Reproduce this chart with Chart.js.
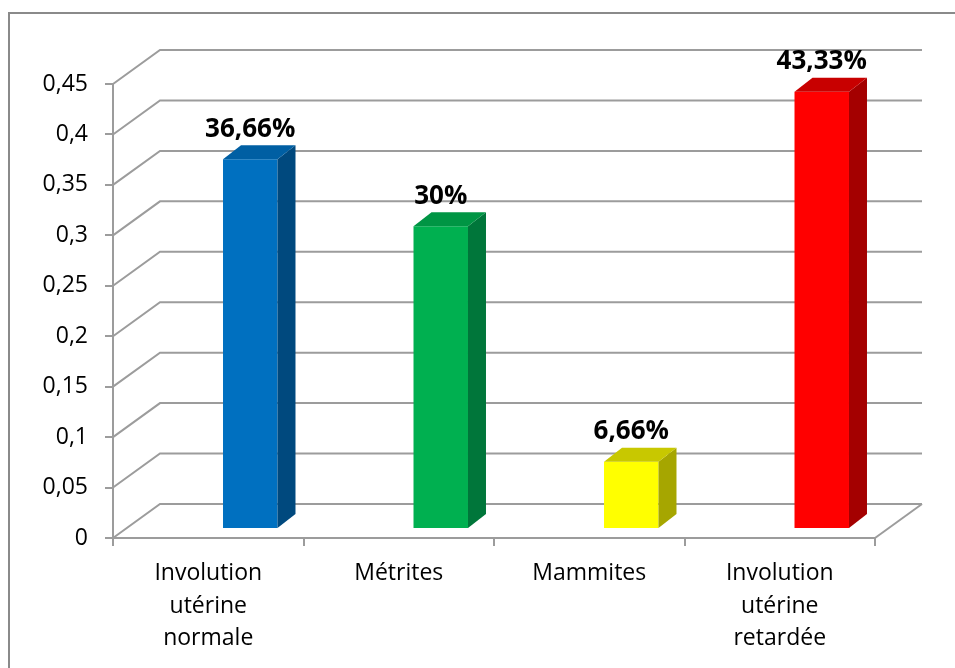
<!DOCTYPE html>
<html>
<head>
<meta charset="utf-8">
<script src="https://cdn.jsdelivr.net/npm/chart.js@4/dist/chart.umd.min.js"></script>
<style>
  html, body { margin: 0; padding: 0; background: #fff; }
  #wrap { width: 955px; height: 668px; }
</style>
</head>
<body>
<div id="wrap"><canvas id="chart"></canvas></div>
<script>
var categories = [
    ['Involution', 'utérine', 'normale'],
    'Métrites',
    'Mammites',
    ['Involution', 'utérine', 'retardée']
];
var values = [0.3666, 0.30, 0.0666, 0.4333];
var frontColors = ['#0070C0', '#00B050', '#FFFF00', '#FF0000'];
var sideColors = ['#00497E', '#00763A', '#A6A600', '#A40000'];
var topColors = ['#005FA3', '#009544', '#C8C800', '#C80000'];

// depth of the back wall and of the columns
var wallDx = 47, wallDy = -34;
var barDx = 42, barDy = -9;
var colDx = 18, colDy = -14;
var gridColor = '#9C9C9C';

function fmtNum(v) {
    return String(Math.round(v * 10000) / 10000).replace('.', ',');
}
function fmtPct(v) {
    return String(Math.round(v * 10000) / 100).replace('.', ',') + '%';
}

var box3d = {
    id: 'box3d',
    beforeDraw: function (chart) {
        var ctx = chart.ctx;
        ctx.save();
        // outer frame
        ctx.strokeStyle = '#8A8A8A';
        ctx.lineWidth = 2;
        ctx.beginPath();
        ctx.moveTo(9, 668);
        ctx.lineTo(9, 13);
        ctx.lineTo(955, 13);
        ctx.stroke();
        ctx.restore();
    },
    beforeDatasetsDraw: function (chart) {
        var ctx = chart.ctx, y = chart.scales.y, a = chart.chartArea;
        ctx.save();
        ctx.strokeStyle = gridColor;
        ctx.lineWidth = 2;
        y.ticks.forEach(function (t) {
            var py = y.getPixelForValue(t.value);
            ctx.beginPath();
            ctx.moveTo(a.left, py);
            ctx.lineTo(a.left + wallDx, py + wallDy);
            ctx.lineTo(a.right + wallDx, py + wallDy);
            ctx.stroke();
        });
        // right edge of the floor
        ctx.beginPath();
        ctx.moveTo(a.right, a.bottom);
        ctx.lineTo(a.right + wallDx, a.bottom + wallDy);
        ctx.stroke();
        ctx.restore();

        ctx.save();
        ctx.translate(barDx, barDy);
    },
    afterDatasetsDraw: function (chart) {
        var ctx = chart.ctx;
        var meta = chart.getDatasetMeta(0);
        meta.data.forEach(function (bar, i) {
            var p = bar.getProps(['x', 'y', 'base', 'width'], true);
            var l = p.x - p.width / 2, r = p.x + p.width / 2;
            // side face
            ctx.fillStyle = sideColors[i];
            ctx.beginPath();
            ctx.moveTo(r, p.y);
            ctx.lineTo(r + colDx, p.y + colDy);
            ctx.lineTo(r + colDx, p.base + colDy);
            ctx.lineTo(r, p.base);
            ctx.closePath();
            ctx.fill();
            // top face
            ctx.fillStyle = topColors[i];
            ctx.beginPath();
            ctx.moveTo(l, p.y);
            ctx.lineTo(l + colDx, p.y + colDy);
            ctx.lineTo(r + colDx, p.y + colDy);
            ctx.lineTo(r, p.y);
            ctx.closePath();
            ctx.fill();
            // value label
            ctx.fillStyle = '#000';
            ctx.font = 'bold 26px "Open Sans"';
            ctx.textAlign = 'center';
            ctx.textBaseline = 'middle';
            ctx.fillText(fmtPct(values[i]), p.x, p.y - 30);
        });
        ctx.restore();
    }
};

new Chart(document.getElementById('chart'), {
    type: 'bar',
    data: {
        labels: categories,
        datasets: [{
            data: values,
            backgroundColor: frontColors,
            borderWidth: 0,
            categoryPercentage: 1,
            barPercentage: 0.286
        }]
    },
    options: {
        responsive: true,
        maintainAspectRatio: false,
        animation: false,
        layout: { padding: { left: 0, top: 84, right: 80, bottom: 0 } },
        plugins: {
            legend: { display: false },
            tooltip: { enabled: false }
        },
        scales: {
            x: {
                afterFit: function (s) { s.height = 130; },
                grid: { drawOnChartArea: false, drawTicks: true, tickLength: 8, color: gridColor, lineWidth: 2 },
                border: { display: true, color: gridColor, width: 2 },
                ticks: {
                    color: '#000',
                    padding: 11,
                    maxRotation: 0,
                    font: { family: 'Open Sans', size: 23, lineHeight: 1.42 }
                }
            },
            y: {
                min: 0,
                max: 0.45,
                afterFit: function (s) { s.width = 113; },
                grid: { drawOnChartArea: false, drawTicks: true, tickLength: 8, color: gridColor, lineWidth: 2 },
                border: { display: true, color: gridColor, width: 2 },
                ticks: {
                    stepSize: 0.05,
                    color: '#000',
                    padding: 17,
                    callback: function (v) { return fmtNum(v); },
                    font: { family: 'Open Sans', size: 23 }
                }
            }
        }
    },
    plugins: [box3d]
});
</script>
</body>
</html>
